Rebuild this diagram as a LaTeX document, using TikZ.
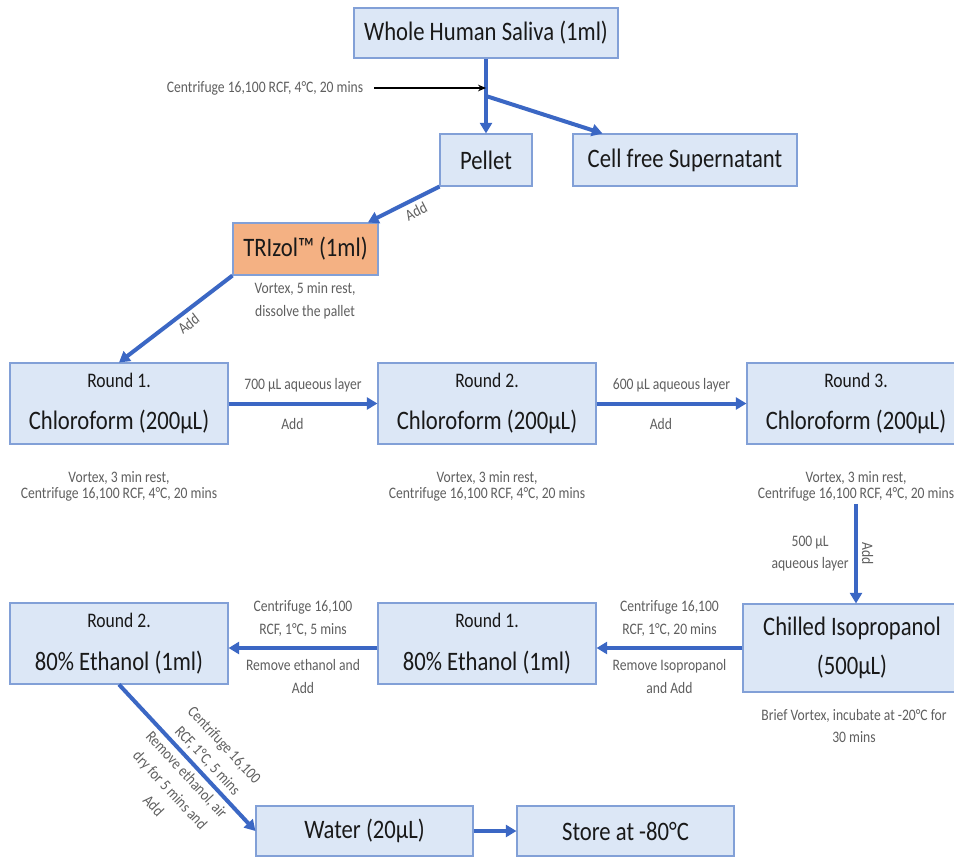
\documentclass[tikz,border=0pt]{standalone}
\usepackage{fontspec}
\setmainfont{Carlito}[FakeStretch=0.85]
\usetikzlibrary{arrows.meta,positioning}

\definecolor{boxfill}{RGB}{220,231,246}
\definecolor{boxline}{RGB}{130,160,215}
\definecolor{flowblue}{RGB}{59,103,196}
\definecolor{trizolfill}{RGB}{244,177,131}
\definecolor{notegray}{RGB}{95,95,95}
\definecolor{txtblack}{RGB}{25,25,25}

\newcommand{\bigtxt}{\fontsize{20}{29}\selectfont}
\newcommand{\midtxt}{\fontsize{15.5}{18}\selectfont}
\newcommand{\smalltxt}{\fontsize{12}{17}\selectfont}
\newcommand{\tighttxt}{\fontsize{12}{12}\selectfont}

\begin{document}
\begin{tikzpicture}[
    x=0.75pt, y=-0.75pt,
    box/.style={rectangle, draw=boxline, fill=boxfill, line width=0.8pt, align=center, font=\bigtxt, text=txtblack, inner sep=2pt},
    reagent/.style={box, fill=trizolfill},
    note/.style={align=center, font=\smalltxt, text=notegray, inner sep=2pt},
    tightnote/.style={note, font=\tighttxt},
    arrow/.style={-{Triangle[length=8pt,width=9pt]}, line width=3pt, draw=flowblue},
    pointer/.style={-{Stealth[length=6pt,width=5pt]}, line width=0.8pt, draw=black}
]
\path[use as bounding box, fill=white] (0,0) rectangle (954,857);

% Sample and first spin
\node[box, minimum width=198pt, minimum height=37.5pt] (saliva) at (486,33) {Whole Human Saliva (1ml)};
\node[box, minimum width=69pt, minimum height=39pt] (pellet) at (486,160) {Pellet};
\node[box, minimum width=168pt, minimum height=39pt] (supern) at (685,160) {Cell free Supernatant};
\coordinate (split) at (486,96);
\coordinate (spinend) at (486,88);
\node[note] (spin) at (265,88) {Centrifuge 16,100 RCF, 4°C, 20 mins};

% TRIzol
\node[reagent, minimum width=108.75pt, minimum height=39pt] (trizol) at (305.5,249) {TRIzol™ (1ml)};
\node[note] (trizolnote) at (305,301) {Vortex, 5 min rest,\\dissolve the pallet};

% Chloroform rounds
\node[box, minimum width=163.5pt, minimum height=60.75pt] (chl1) at (119,403.5) {{\midtxt Round 1.}\\[3pt]Chloroform (200µL)};
\node[box, minimum width=163.5pt, minimum height=60.75pt] (chl2) at (487,403.5) {{\midtxt Round 2.}\\[3pt]Chloroform (200µL)};
\node[box, minimum width=163.5pt, minimum height=60.75pt] (chl3) at (856,403.5) {{\midtxt Round 3.}\\[3pt]Chloroform (200µL)};
\node[tightnote] (note1) at (119,486) {Vortex, 3 min rest,\\Centrifuge 16,100 RCF, 4°C, 20 mins};
\node[tightnote] (note2) at (487,486) {Vortex, 3 min rest,\\Centrifuge 16,100 RCF, 4°C, 20 mins};
\node[tightnote] (note3) at (856,486) {Vortex, 3 min rest,\\Centrifuge 16,100 RCF, 4°C, 20 mins};

% Precipitation and washes
\node[box, minimum width=163.5pt, minimum height=66pt] (iso) at (852,648) {Chilled Isopropanol\\(500µL)};
\node[note] (isonote) at (854,726) {Brief Vortex, incubate at -20°C for\\30 mins};
\node[box, minimum width=163.5pt, minimum height=60.75pt] (eth1) at (487,643.5) {{\midtxt Round 1.}\\[3pt]80\% Ethanol (1ml)};
\node[box, minimum width=163.5pt, minimum height=60.75pt] (eth2) at (119,643.5) {{\midtxt Round 2.}\\[3pt]80\% Ethanol (1ml)};

% Elution and storage
\node[box, minimum width=162.75pt, minimum height=37.5pt] (water) at (364.5,831) {Water (20µL)};
\node[box, minimum width=162.75pt, minimum height=37.5pt] (store) at (625.5,831) {Store at -80°C};

% Arrows
\foreach \i/\j in {saliva/pellet, split/supern, water/store} {
    \draw[arrow] (\i) -- (\j);
}
\draw[pointer] ([xshift=6pt]spin.east) -- (spinend);
\draw[arrow] (pellet.south west) -- node[note, sloped, below=1pt, pos=0.4] {Add} ([xshift=-8pt]trizol.north east);
\draw[arrow] (trizol.south west) -- node[note, sloped, below=1pt, pos=0.45] {Add} (chl1.north);
\draw[arrow] (chl1) -- node[note, above=5pt] {700 µL aqueous layer} node[note, below=8pt, xshift=-8pt] {Add} (chl2);
\draw[arrow] (chl2) -- node[note, above=5pt] {600 µL aqueous layer} node[note, below=8pt, xshift=-8pt] {Add} (chl3);
\draw[arrow] (note3.south) -- node[note, left=2pt] {500 µL\\aqueous layer} node[note, sloped, above=1pt] {Add} (note3.south |- iso.north);
\draw[arrow] (iso.west) -- node[note, above=5pt] {Centrifuge 16,100\\RCF, 1°C, 20 mins} node[note, below=5pt] {Remove Isopropanol\\and Add} (iso.west -| eth1.east);
\draw[arrow] (eth1.west |- iso) -- node[note, above=5pt] {Centrifuge 16,100\\RCF, 1°C, 5 mins} node[note, below=5pt] {Remove ethanol and\\Add} (eth2.east |- iso);
\draw[arrow] (eth2.south) -- node[note, sloped, above=1pt, pos=0.58] {Centrifuge 16,100\\RCF, 1°C, 5 mins} node[note, sloped, below=1pt, pos=0.56] {Remove ethanol, air\\dry for 5 mins and\\Add} (water.west);

\end{tikzpicture}
\end{document}
